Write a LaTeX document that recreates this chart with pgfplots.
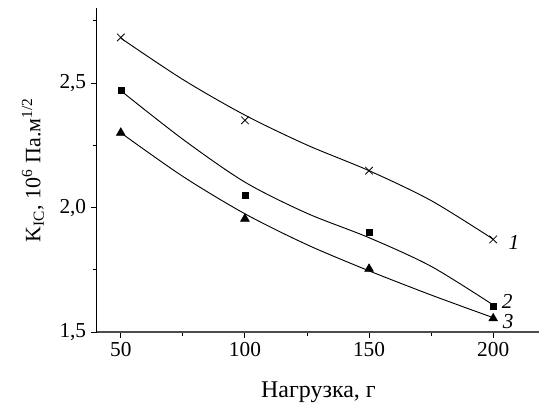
\documentclass[border=0pt]{standalone}
\usepackage{fontspec}
\setmainfont{Liberation Serif}
\usepackage{pgfplots}
\pgfplotsset{compat=1.18}

% кривые подгонки
\pgfplotstableread{
x    y1     y2     y3
50   2.680  2.469  2.300
75   2.514  2.274  2.125
100  2.371  2.102  1.975
125  2.251  1.977  1.851
150  2.148  1.879  1.746
175  2.028  1.764  1.649
200  1.873  1.609  1.558
}\fitdata

\begin{document}
\begin{tikzpicture}
\begin{axis}[
    scale only axis,
    width=332.25pt, height=243.3pt,
    xmin=40.35, xmax=218.5,
    ymin=1.5, ymax=2.8,
    axis x line=bottom, axis y line=left,
    x axis line style={-, line width=1.3pt, black!70},
    y axis line style={-, line width=0.9pt, black},
    xtick={50,100,150,200},
    minor xtick={75,125,175},
    ytick={1.5,2.0,2.5},
    minor ytick={1.75,2.25,2.75},
    tick align=outside,
    major tick length=4.5pt, minor tick length=3pt,
    every tick/.style={black, line width=0.7pt},
    /pgf/number format/assume math mode=true,
    yticklabel style={/pgf/number format/.cd, use comma, fixed, fixed zerofill, precision=1},
    ticklabel style={font=\fontsize{16}{19}\selectfont},
    xlabel={Нагрузка, г},
    xlabel style={font=\fontsize{18}{21}\selectfont, at={(axis description cs:0.501,-0.2013)}, anchor=base},
    ylabel={K\textsubscript{IC}, 10\textsuperscript{6} Па.м\textsuperscript{1/2}},
    ylabel style={font=\fontsize{16.5}{20}\selectfont, at={(axis description cs:-0.1445,0.5)}, anchor=center},
    clip=false,
]
% сглаженные кривые
\addplot[black, line width=0.7pt, smooth] table[x=x, y=y1] {\fitdata};
\addplot[black, line width=0.7pt, smooth] table[x=x, y=y2] {\fitdata};
\addplot[black, line width=0.7pt, smooth] table[x=x, y=y3] {\fitdata};
% экспериментальные точки
\addplot[only marks, mark=x, mark size=4pt, black, line width=0.6pt] coordinates {(50,2.683) (100,2.350) (150,2.148) (200,1.872)};
\addplot[only marks, mark=square*, mark size=2.25pt, black] coordinates {(50,2.472) (100,2.050) (150,1.901) (200,1.602)};
\addplot[only marks, mark=triangle*, mark size=3.8pt, black] coordinates {(50,2.300) (100,1.955) (150,1.754) (200,1.555)};
\node[font=\fontsize{16}{19}\selectfont\itshape] at (axis cs:208.4,1.86) {1};
\node[font=\fontsize{16}{19}\selectfont\itshape] at (axis cs:205.6,1.623) {2};
\node[font=\fontsize{16}{19}\selectfont\itshape] at (axis cs:206,1.543) {3};
\end{axis}
\path[use as bounding box] (-72.75pt,-54.2pt) rectangle (332.25pt,249.5pt);
\end{tikzpicture}
\end{document}
